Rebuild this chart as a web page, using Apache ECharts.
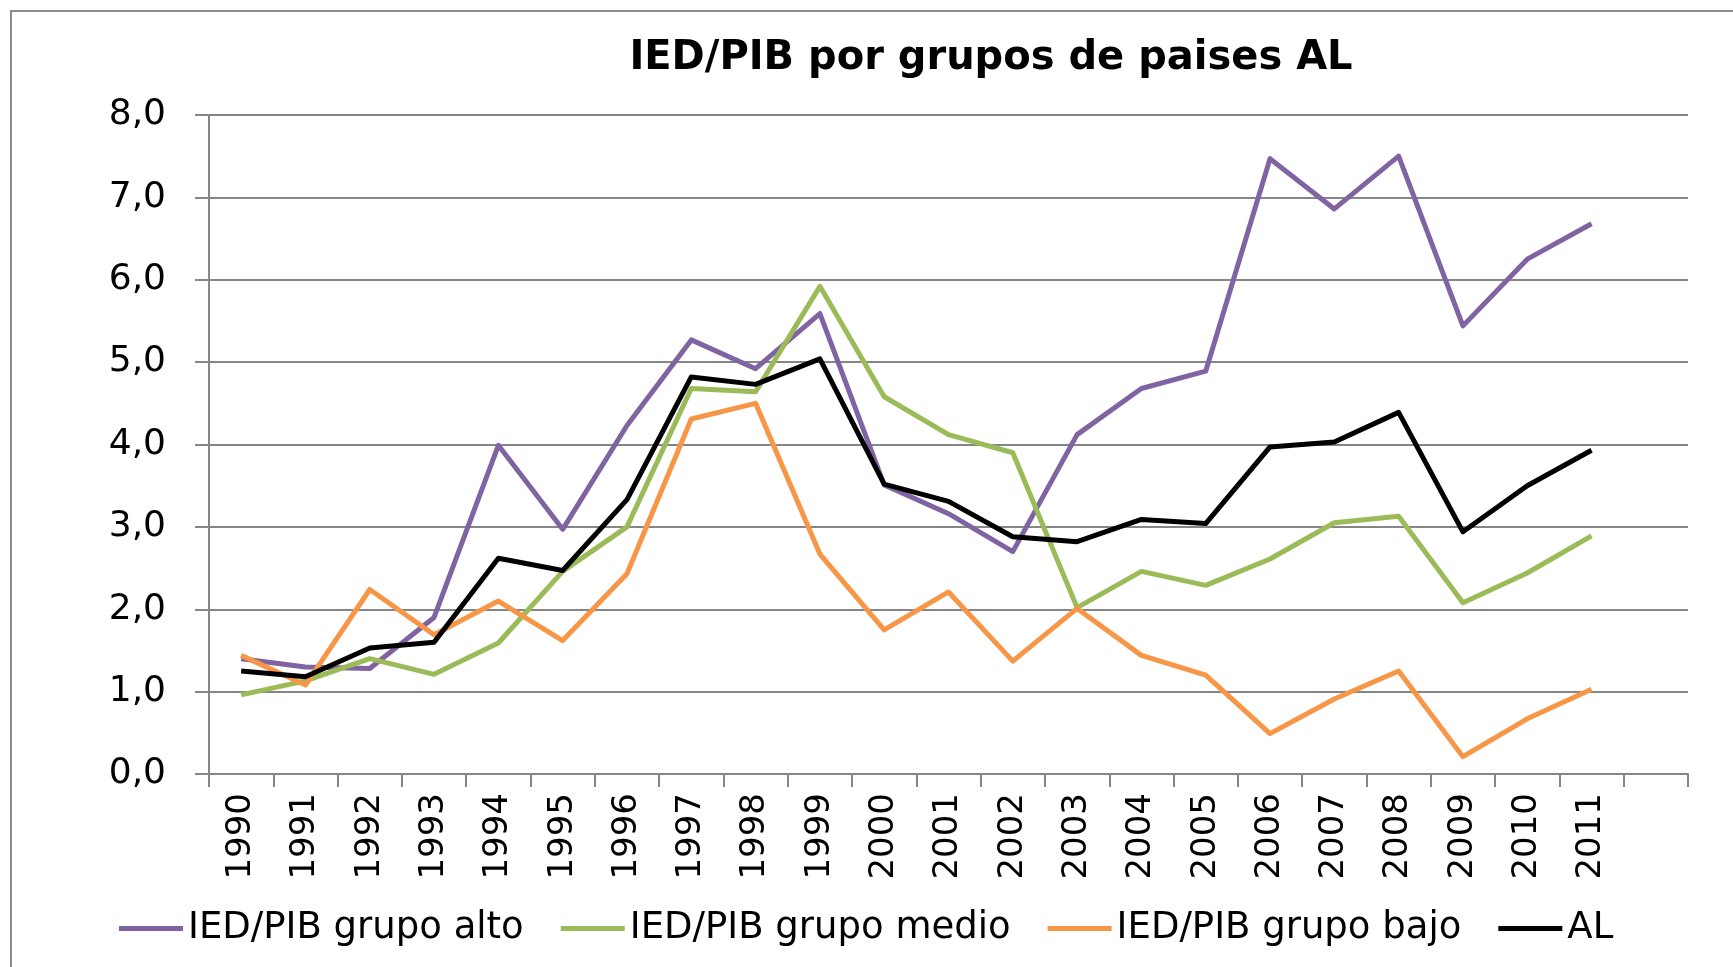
<!DOCTYPE html>
<html><head><meta charset="utf-8">
<script src="https://cdn.jsdelivr.net/npm/echarts@6/dist/echarts.min.js"></script>
<style>html,body{margin:0;padding:0;background:#fff}#c{width:1733px;height:967px}</style>
</head><body><div id="c"></div>
<script>
const years = ['1990','1991','1992','1993','1994','1995','1996','1997','1998','1999','2000','2001','2002','2003','2004','2005','2006','2007','2008','2009','2010','2011',''];
const grupoAlto  = [1.40,1.30,1.28,1.90,3.99,2.97,4.23,5.27,4.92,5.59,3.51,3.16,2.70,4.12,4.68,4.89,7.47,6.86,7.50,5.44,6.25,6.68,null];
const grupoMedio = [0.96,1.13,1.40,1.21,1.59,2.46,3.00,4.68,4.64,5.92,4.58,4.12,3.90,2.02,2.46,2.29,2.61,3.05,3.13,2.08,2.44,2.89,null];
const grupoBajo  = [1.44,1.08,2.24,1.69,2.10,1.62,2.43,4.31,4.50,2.67,1.75,2.21,1.37,2.01,1.44,1.20,0.49,0.91,1.25,0.21,0.67,1.03,null];
const totalAL    = [1.25,1.18,1.53,1.60,2.62,2.47,3.33,4.82,4.73,5.04,3.52,3.31,2.88,2.82,3.09,3.04,3.97,4.03,4.39,2.94,3.50,3.93,null];
const seriesNames = ['IED/PIB grupo alto','IED/PIB grupo medio','IED/PIB grupo bajo','AL'];
const seriesColors = ['#8064A2','#9BBB59','#F79646','#000000'];
const seriesData = [grupoAlto, grupoMedio, grupoBajo, totalAL];

const FONT = 'DejaVu Sans';
const chart = echarts.init(document.getElementById('c'));
chart.setOption({
  animation:false,
  backgroundColor:'#fff',
  graphic:[{type:'rect',shape:{x:11,y:11,width:1760,height:1000},style:{fill:'none',stroke:'#8c8c8c',lineWidth:2},silent:true,z:-1}],
  title:{text:'IED/PIB por grupos de paises AL',left:986,top:34,textAlign:'center',
    textStyle:{fontFamily:FONT,fontWeight:'bold',fontSize:40,color:'#000'}},
  grid:{left:209,top:115,right:45,bottom:193,containLabel:false},
  legend:{bottom:15,left:114,itemWidth:64,itemHeight:5,itemGap:37,icon:'rect',
    textStyle:{fontFamily:FONT,fontSize:37,color:'#000'},data:seriesNames},
  xAxis:{type:'category',data:years,boundaryGap:true,
    axisLine:{lineStyle:{color:'#868686',width:2}},
    axisTick:{show:true,length:13,alignWithLabel:false,interval:0,lineStyle:{color:'#868686',width:2}},
    axisLabel:{rotate:90,interval:0,margin:19,fontFamily:FONT,fontSize:34,color:'#000'},
    splitLine:{show:false}},
  yAxis:{type:'value',min:0,max:8,interval:1,
    axisLine:{show:true,lineStyle:{color:'#868686',width:2}},
    axisTick:{show:true,length:14,lineStyle:{color:'#868686',width:2}},
    axisLabel:{margin:43,fontFamily:FONT,fontSize:36,color:'#000',formatter:v=>v.toFixed(1).replace('.',',')},
    splitLine:{lineStyle:{color:'#868686',width:2}}},
  series: seriesNames.map((n,i)=>({name:n,type:'line',data:seriesData[i],symbol:'none',showSymbol:false,
    lineStyle:{color:seriesColors[i],width:5,join:'round'},itemStyle:{color:seriesColors[i]}}))
});
</script></body></html>
